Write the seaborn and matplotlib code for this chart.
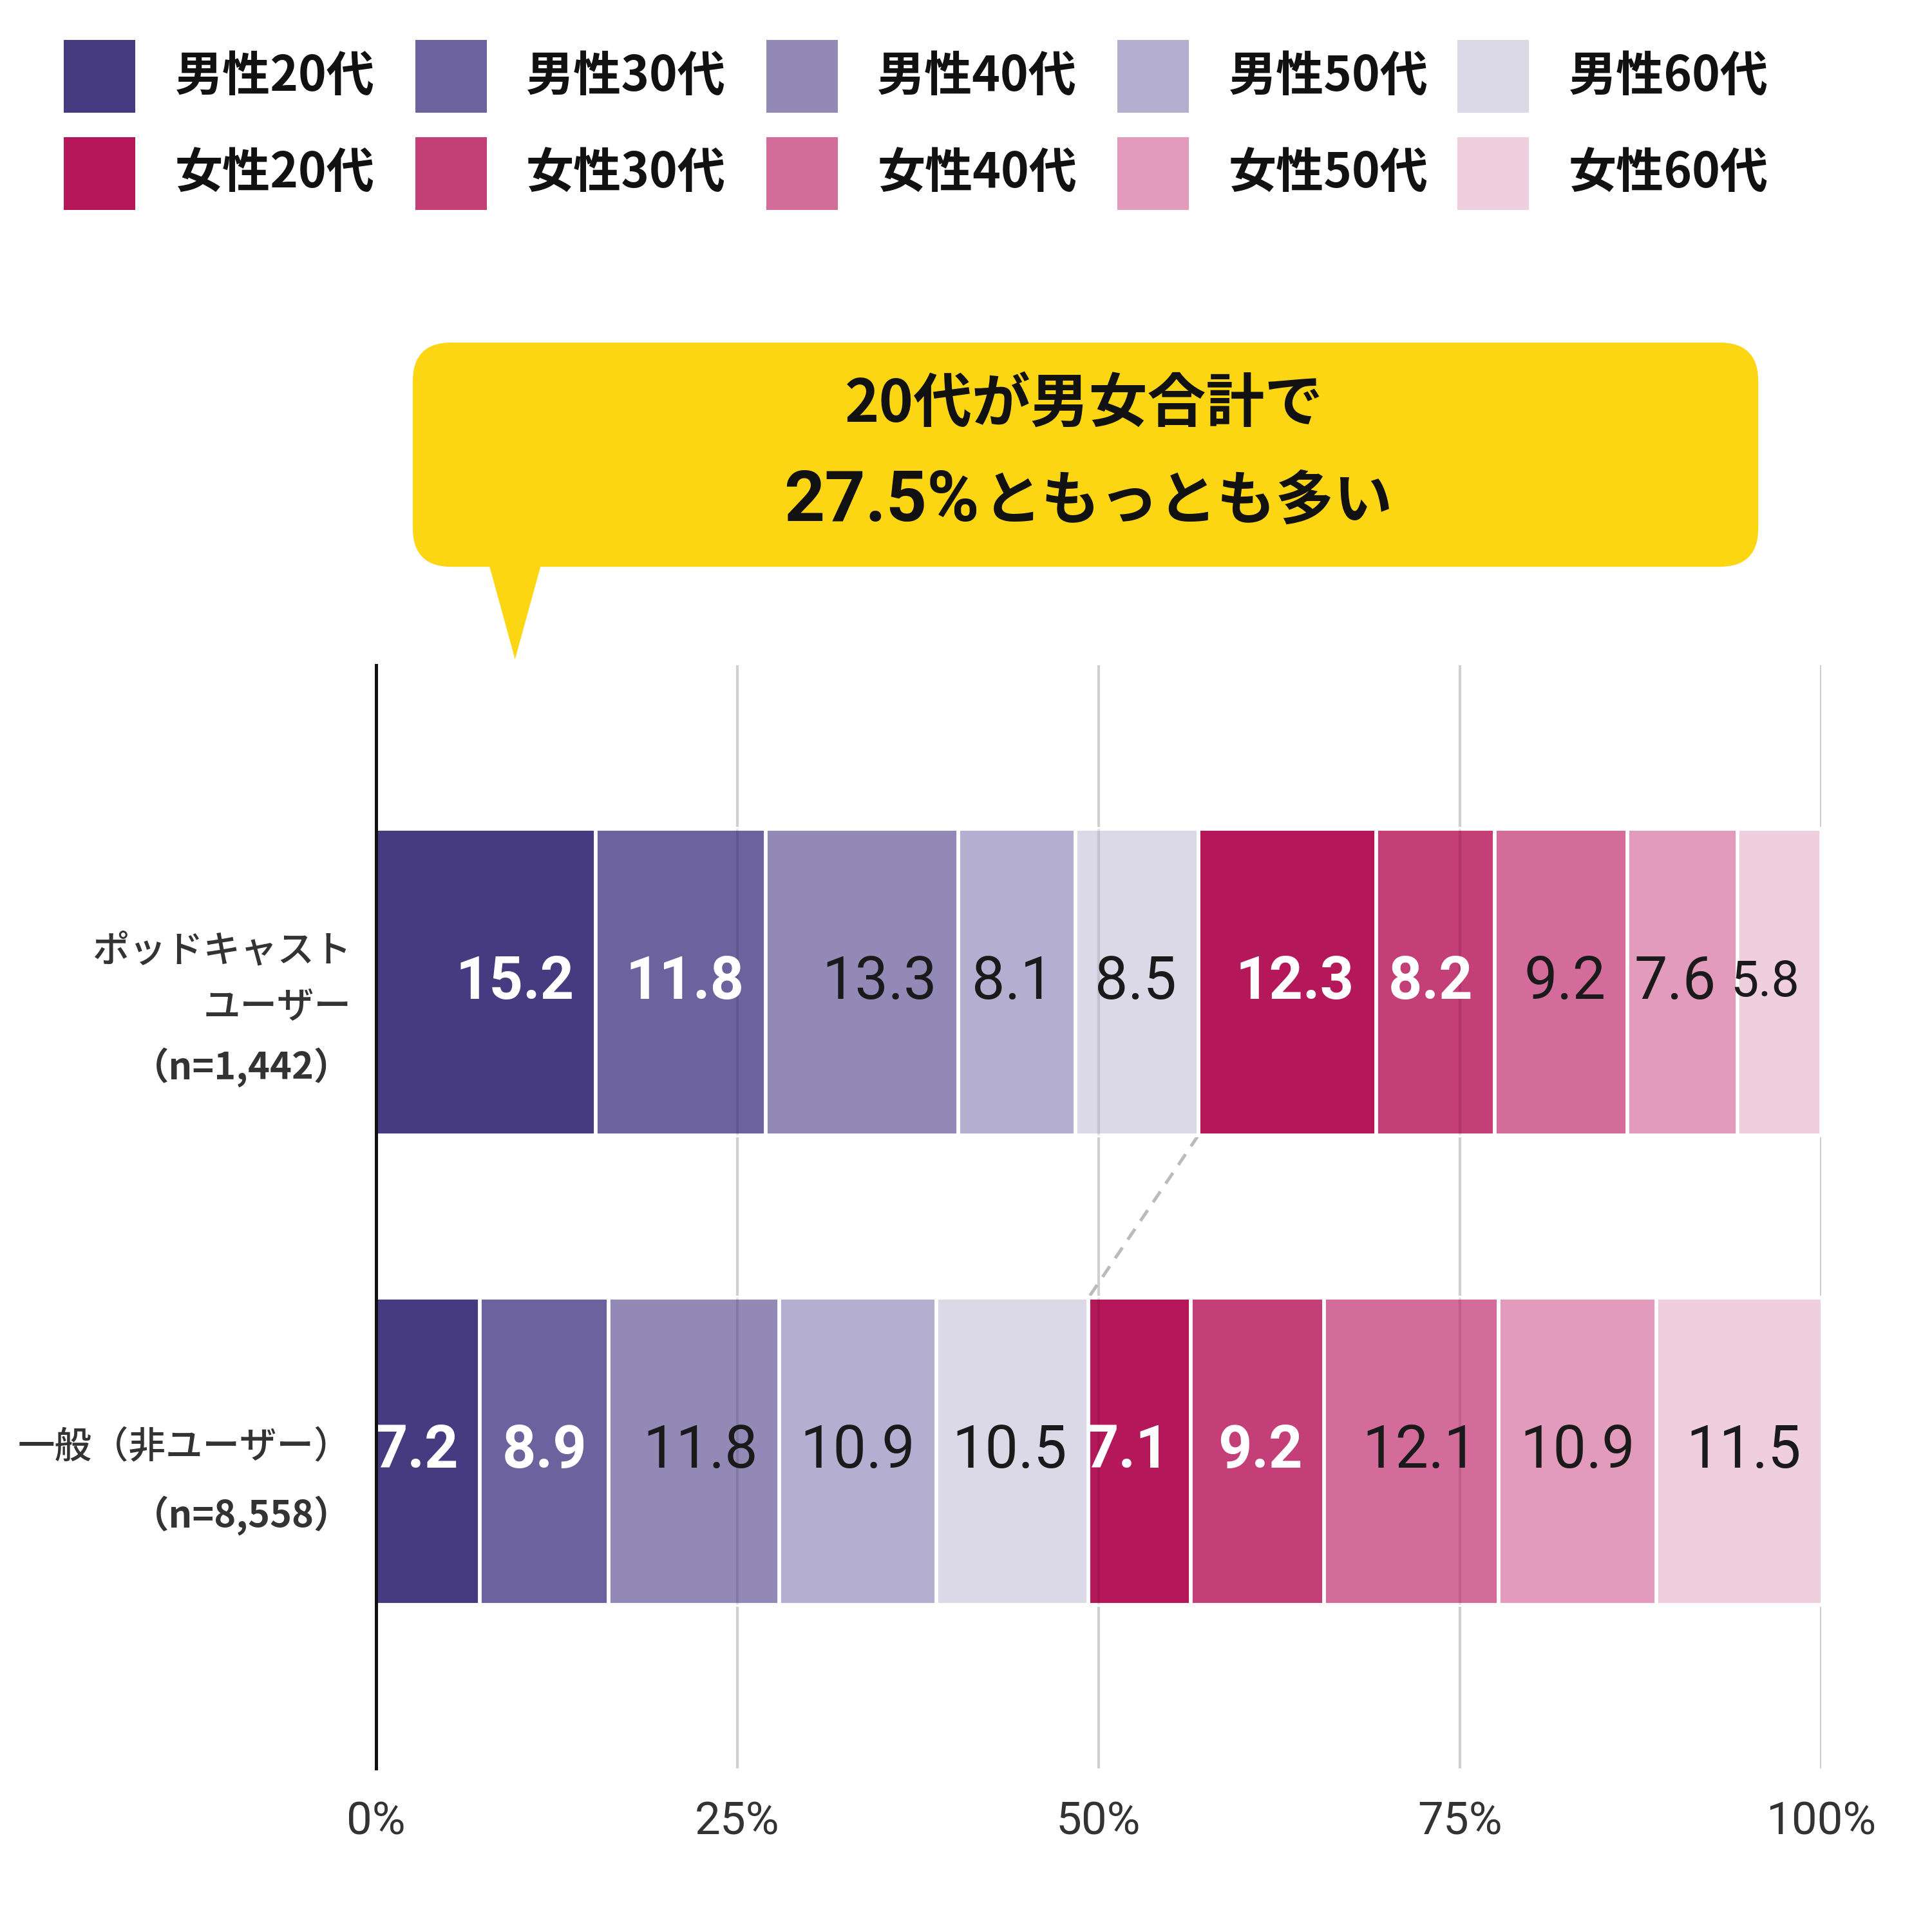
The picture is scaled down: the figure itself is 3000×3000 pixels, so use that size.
import numpy as np
import pandas as pd
import matplotlib.pyplot as plt
import seaborn as sns
from matplotlib.patches import Rectangle, FancyBboxPatch, Polygon

# data
group_keys = ['podcast', 'general']
group_lines = [['ポッドキャスト', 'ユーザー', '（n=1,442）'],
               ['一般（非ユーザー）', '（n=8,558）']]
categories = ['男性20代', '男性30代', '男性40代', '男性50代', '男性60代',
              '女性20代', '女性30代', '女性40代', '女性50代', '女性60代']
podcast_values = [15.2, 11.8, 13.3, 8.1, 8.5, 12.3, 8.2, 9.2, 7.6, 5.8]
general_values = [7.2, 8.9, 11.8, 10.9, 10.5, 7.1, 9.2, 12.1, 10.9, 11.5]
colors = ['#463a80', '#6c629d', '#9389b6', '#b4afd0', '#dbd9e8',
          '#b4185a', '#c43e78', '#d46c9b', '#e29bbc', '#efcedd']
white_label = [True, True, False, False, False, True, True, False, False, False]
tick_values = [0, 25, 50, 75, 100]
tick_labels = ['0%', '25%', '50%', '75%', '100%']
callout_top = '20代が男女合計で'
callout_num = '27.5%'
callout_rest = 'ともっとも多い'

JP = ['Noto Sans CJK JP', 'DejaVu Sans']
NUM = ['Roboto', 'Noto Sans CJK JP', 'DejaVu Sans']

sns.set_style('white')
plt.rcParams['font.family'] = NUM

rows = []
for g, vals in zip(group_keys, [podcast_values, general_values]):
    cum = np.cumsum(vals)
    for cat, v, c in zip(categories, vals, cum):
        rows.append({'group': g, 'category': cat, 'value': v, 'cum': c})
df = pd.DataFrame(rows)

W = 1568.0  # reference layout measured on a 1568px preview
fig = plt.figure(figsize=(10, 10), dpi=300)
ax = fig.add_axes([305 / W, 1 - 1435 / W, (1478 - 305) / W, (1435 - 540) / W])

bar_h = 0.654
# gridlines behind
for t in tick_values[1:]:
    ax.axvline(t, color='#d0d0d0', lw=1.0, zorder=0)

# stacked bars: draw cumulative totals from largest to smallest
for cat, col in reversed(list(zip(categories, colors))):
    sub = df[df['category'] == cat]
    sns.barplot(data=sub, x='cum', y='group', order=group_keys, orient='h',
                color=col, saturation=1, width=bar_h, errorbar=None,
                edgecolor='white', linewidth=1.4, ax=ax, zorder=2)

# faint gridlines showing through the bars
for i in range(len(group_keys)):
    ax.vlines(tick_values[1:-1], i - bar_h / 2, i + bar_h / 2,
              color='#000000', lw=1.0, alpha=0.1, zorder=3)

# value labels
for i, g in enumerate(group_keys):
    sub = df[df['group'] == g].reset_index(drop=True)
    for j, r in sub.iterrows():
        wl = white_label[j]
        fs = 18.5 if r['value'] < 6 else 22
        ax.annotate(f"{r['value']:.1f}", xy=(r['cum'], i), xytext=(-8, 0),
                    textcoords='offset points', ha='right', va='center',
                    fontsize=fs, color='white' if wl else '#1a1a1a',
                    fontweight='bold' if wl else 'normal', family=NUM,
                    zorder=4, annotation_clip=False)

# dashed connector between male totals
male_top = df[(df.group == 'podcast') & (df.category == '男性60代')]['cum'].iloc[0]
male_bot = df[(df.group == 'general') & (df.category == '男性60代')]['cum'].iloc[0]
ax.plot([male_top, male_bot], [bar_h / 2, 1 - bar_h / 2], ls=(0, (4, 3)),
        color='#bbbbbb', lw=1.2, zorder=1)

ax.set_xlim(0, 100)
ax.set_ylim(1.675, -0.675)
ax.set_xticks(tick_values)
ax.set_xticklabels(tick_labels, fontsize=17, color='#333333', family=NUM)
ax.tick_params(axis='x', length=0, pad=12)
ax.set_yticks([])
ax.set_xlabel('')
ax.set_ylabel('')
for s in ['top', 'right', 'bottom']:
    ax.spines[s].set_visible(False)
ax.spines['left'].set_color('#111111')
ax.spines['left'].set_linewidth(1.2)
ax.spines['left'].set_zorder(5)

# group labels
label_y = [[-0.066, 0.055, 0.181], [0.992, 1.136]]
for lines, ys in zip(group_lines, label_y):
    for txt, y in zip(lines, ys):
        bold = txt.startswith('（n')
        ax.text(-0.017, y, txt, transform=ax.get_yaxis_transform(),
                ha='right', va='center', fontsize=13.8, color='#333333',
                fontweight='bold' if bold else 'medium', family=JP)

# legend, drawn by hand
col_x = [52, 337, 622, 907, 1183]
row_y = [62, 141]
for idx, (cat, col) in enumerate(zip(categories, colors)):
    r, c = divmod(idx, 5)
    x0 = col_x[c] / W
    yc = 1 - row_y[r] / W
    fig.add_artist(Rectangle((x0, yc - 29.5 / W), 58 / W, 59 / W,
                             transform=fig.transFigure, color=col, lw=0))
    fig.text(x0 + 90 / W, yc, cat, ha='left', va='center', fontsize=17.8,
             fontweight='bold', color='#111111', family=JP)

# callout bubble
yellow = '#fcd612'
fig.add_artist(FancyBboxPatch((335 / W, 1 - 460 / W), 1092 / W, 182 / W,
                              boxstyle='round,pad=0,rounding_size=0.02',
                              transform=fig.transFigure, fc=yellow, ec='none'))
fig.add_artist(Polygon([(396 / W, 1 - 455 / W), (440 / W, 1 - 455 / W),
                        (418 / W, 1 - 535 / W)], closed=True,
                       transform=fig.transFigure, fc=yellow, ec='none'))
fig.text(880 / W, 1 - 328 / W, callout_top, ha='center', va='center',
         fontsize=21.8, fontweight='bold', color='#111111', family=JP)
fig.text(795 / W, 1 - 407 / W, callout_num, ha='right', va='center',
         fontsize=26.5, fontweight='bold', color='#111111', family=NUM)
fig.text(798 / W, 1 - 407 / W, callout_rest, ha='left', va='center',
         fontsize=21.8, fontweight='bold', color='#111111', family=JP)

fig.savefig('out.png', dpi=300, facecolor='white')
